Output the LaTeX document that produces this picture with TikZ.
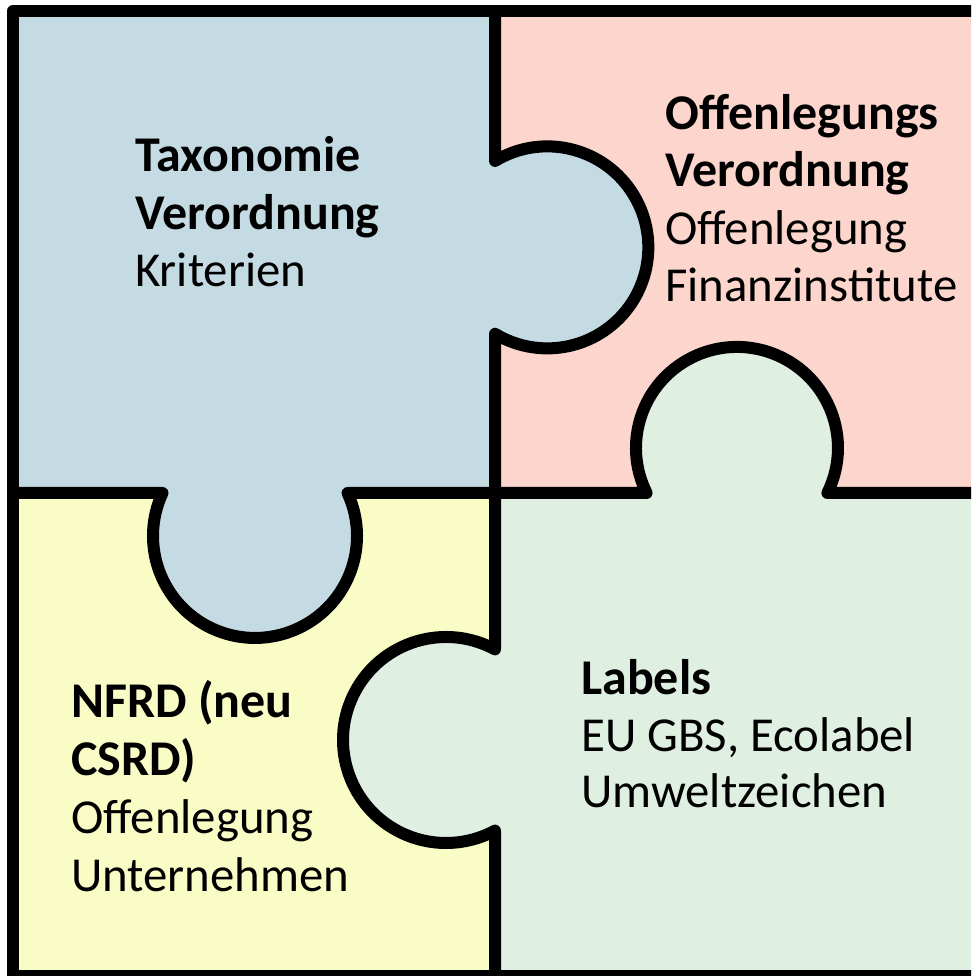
\documentclass[tikz,border=0pt]{standalone}
\usepackage{fontspec}
\setmainfont{Carlito}
\definecolor{pblue}{RGB}{197,219,227}
\definecolor{ppink}{RGB}{252,213,204}
\definecolor{pyellow}{RGB}{249,252,197}
\definecolor{pgreen}{RGB}{223,239,225}
\begin{document}
\begin{tikzpicture}[x=1pt,y=1pt,
  edge/.style={line width=12pt, line join=round, draw=black},
  txt/.style={anchor=base west, inner sep=0pt, font=\fontsize{48.8}{57}\selectfont},
  btxt/.style={anchor=base west, inner sep=0pt, font=\fontsize{50}{57}\selectfont\bfseries}]
\useasboundingbox (0,0) rectangle (971,976);
\clip (0,0) rectangle (971,976);
\fill[white] (0,0) rectangle (971,976);
% top-left piece
\path[fill=pblue] (13,965) -- (495,965) -- (495,815)
  arc[start angle=121.2, end angle=-121.2, radius=101] -- (495,483) -- (347.5,483)
  arc[start angle=24.9, end angle=-204.9, radius=102] -- (13,483) -- cycle;
% top-right piece
\path[fill=ppink] (495,965) -- (990,965) -- (990,483) -- (827.4,483)
  arc[start angle=-26.5, end angle=206.5, radius=101] -- (495,483) -- (495,643)
  arc[start angle=-121.2, end angle=121.2, radius=101] -- cycle;
% bottom-left piece
\path[fill=pyellow] (13,483) -- (162.5,483)
  arc[start angle=155.1, end angle=384.9, radius=102] -- (495,483) -- (495,326.6)
  arc[start angle=61.6, end angle=298.4, radius=103] -- (495,0) -- (13,0) -- cycle;
% bottom-right piece
\path[fill=pgreen] (495,483) -- (646.6,483)
  arc[start angle=206.5, end angle=-26.5, radius=101] -- (990,483) -- (990,0) -- (495,0) -- (495,145.4)
  arc[start angle=298.4, end angle=61.6, radius=103] -- cycle;
% outlines
\draw[edge] (13,0) rectangle (990,965);
\draw[edge] (495,965) -- (495,815)
  arc[start angle=121.2, end angle=-121.2, radius=101] -- (495,483) -- (495,326.6)
  arc[start angle=61.6, end angle=298.4, radius=103] -- (495,0);
\draw[edge] (13,483) -- (162.5,483)
  arc[start angle=155.1, end angle=384.9, radius=102] -- (646.6,483)
  arc[start angle=206.5, end angle=-26.5, radius=101] -- (990,483);
% texts
\node[btxt] (tl1) at (135,804) {Taxonomie};
\node[btxt] (tl2) at (135,746.5) {Verordnung};
\node[txt]  (tl3) at (135,689) {Kriterien};
\node[btxt] (tr1) at (665,846) {Offenlegungs};
\node[btxt] (tr2) at (665,789) {Verordnung};
\node[txt]  (tr3) at (665,731) {Offenlegung};
\node[txt]  (tr4) at (665,674) {Finanzinstitute};
\node[btxt] (bl1) at (71,258) {NFRD (neu};
\node[btxt] (bl2) at (71,200) {CSRD)};
\node[txt]  (bl3) at (71,142) {Offenlegung};
\node[txt]  (bl4) at (71,84) {Unternehmen};
\node[btxt] (br1) at (581,281) {Labels};
\node[txt]  (br2) at (581,224) {EU GBS, Ecolabel};
\node[txt]  (br3) at (581,168) {Umweltzeichen};
\end{tikzpicture}
\end{document}
